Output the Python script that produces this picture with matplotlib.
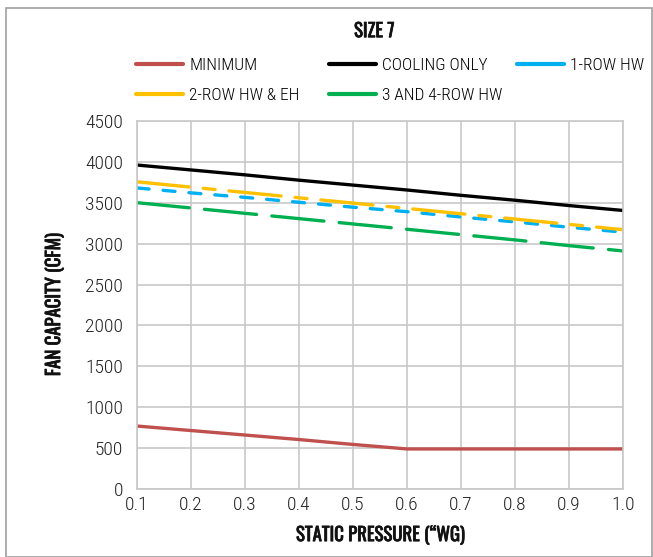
#!/usr/bin/env python3

import matplotlib.pyplot as plt
import matplotlib.patheffects as pe
from matplotlib.patches import Rectangle

# static pressure ("WG) and fan capacity (CFM) per unit type
pressure = [0.1, 0.2, 0.3, 0.4, 0.5, 0.6, 0.7, 0.8, 0.9, 1.0]
minimum = [770, 715, 660, 605, 545, 490, 490, 490, 490, 490]
cooling_only = [3960, 3900, 3840, 3775, 3715, 3655, 3590, 3530, 3465, 3405]
row1_hw = [3680, 3620, 3565, 3505, 3445, 3390, 3325, 3265, 3200, 3140]
row2_hw_eh = [3755, 3690, 3625, 3560, 3495, 3430, 3365, 3300, 3235, 3170]
row34_hw = [3500, 3435, 3370, 3305, 3240, 3175, 3110, 3045, 2975, 2910]

x_ticks = [0.1, 0.2, 0.3, 0.4, 0.5, 0.6, 0.7, 0.8, 0.9, 1.0]
y_ticks = [0, 500, 1000, 1500, 2000, 2500, 3000, 3500, 4000, 4500]

plt.rcParams['font.family'] = ['Roboto Condensed', 'DejaVu Sans']
plt.rcParams['font.weight'] = 300
heading = ['Oswald', 'Roboto Condensed', 'DejaVu Sans']
# Oswald comes out thin here, so thicken it with a stroke
bold_fx = [pe.withStroke(linewidth=0.55, foreground='#111111')]

fig = plt.figure(figsize=(6.53, 5.57), dpi=100)
ax = fig.add_axes([0.21, 0.122, 0.744, 0.661])

# outer frame
fig.patches.append(Rectangle((0.009, 0.0), 0.99, 0.985, transform=fig.transFigure,
                             fill=False, edgecolor='#a0a0a0', linewidth=1.2))

lw = 2.4
l_min, = ax.plot(pressure, minimum, color='#c0504d', lw=lw, solid_capstyle='round')
l_cool, = ax.plot(pressure, cooling_only, color='black', lw=lw, solid_capstyle='round')
l_row1, = ax.plot(pressure, row1_hw, color='#00b0f0', lw=lw, dashes=(3.6, 4.2), dash_capstyle='round')
l_row2, = ax.plot(pressure, row2_hw_eh, color='#ffc000', lw=lw, dashes=(15.7, 4.2, 3.6, 4.2),
                  dash_capstyle='round')
l_row34, = ax.plot(pressure, row34_hw, color='#00b050', lw=lw, dashes=(15.7, 4.6), dash_capstyle='round')

ax.set_xlim(0.1, 1.0)
ax.set_ylim(0, 4500)
ax.set_xticks(x_ticks)
ax.set_xticklabels([f"{v:.1f}" for v in x_ticks])
ax.set_yticks(y_ticks)
ax.grid(True, color='#c8c8c8', linewidth=1.2)
ax.set_axisbelow(True)
for s in ax.spines.values():
  s.set_color('#c8c8c8')
  s.set_linewidth(1.2)
ax.tick_params(length=0, labelsize=14, colors='#222222')
ax.tick_params(axis='y', pad=10)
ax.tick_params(axis='x', pad=5)

ax.set_xlabel('STATIC PRESSURE (\u201cWG)', family=heading, fontsize=13.5, color='#111111',
              labelpad=8, path_effects=bold_fx)
ax.set_ylabel('FAN CAPACITY (CFM)', family=heading, fontsize=13.5, color='#111111',
              labelpad=15, path_effects=bold_fx)

fig.text(0.573, 0.944, 'SIZE 7', ha='center', va='center', family=heading, fontsize=13.5,
         color='#111111', path_effects=bold_fx)

# legend: one entry per slot so the columns sit where the reference has them
slots = [
  (l_min, 'MINIMUM', 0.209, 0.883),
  (l_cool, 'COOLING ONLY', 0.504, 0.883),
  (l_row1, '1-ROW HW', 0.792, 0.883),
  (l_row2, '2-ROW HW & EH', 0.209, 0.829),
  (l_row34, '3 AND 4-ROW HW', 0.504, 0.829),
]
for h, lab, x, y in slots:
  leg = fig.legend([h], [lab], loc='center left', bbox_to_anchor=(x, y), frameon=False,
                   fontsize=12.5, handlelength=2.7, handletextpad=0.35, borderpad=0,
                   borderaxespad=0)
  for line in leg.get_lines():
    line.set_linestyle('-')
    line.set_linewidth(3)
    line.set_solid_capstyle('round')

fig.savefig('out.png', dpi=100)
